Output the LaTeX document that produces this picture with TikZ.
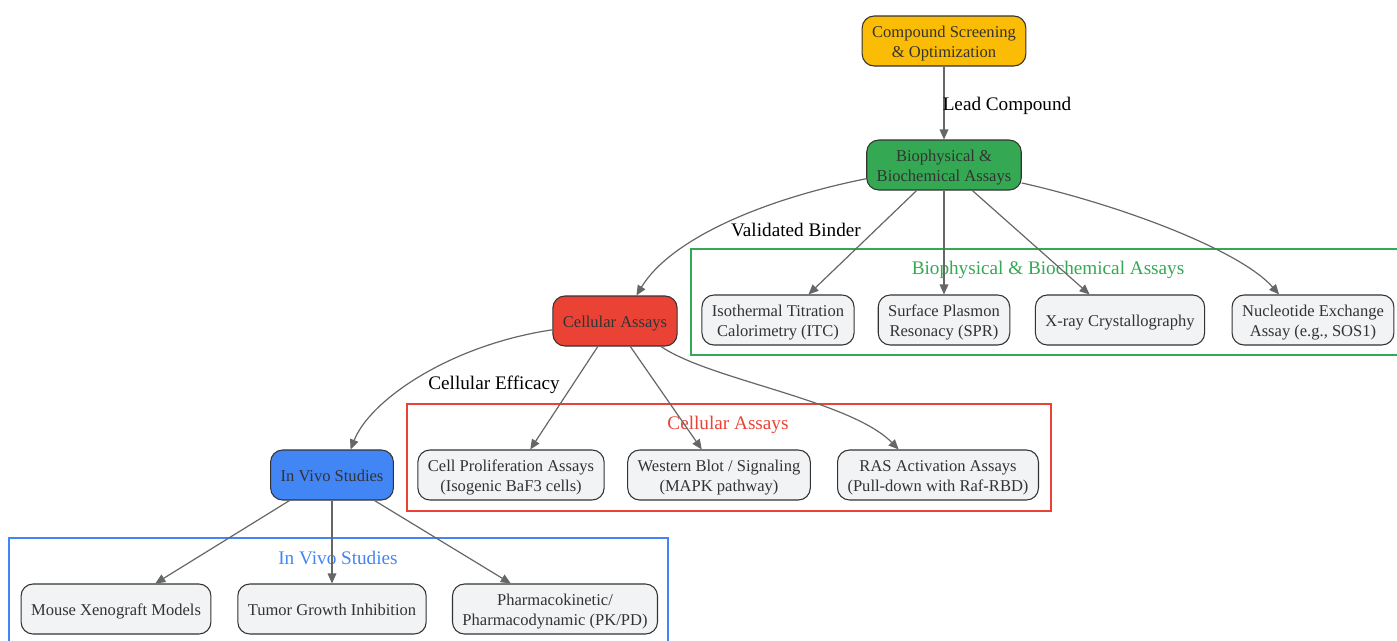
\documentclass[tikz,border=0pt]{standalone}
\usepackage{fontspec}
\setmainfont{Liberation Serif}
\usetikzlibrary{arrows.meta}
\definecolor{gyellow}{HTML}{FBBC05}
\definecolor{ggreen}{HTML}{34A853}
\definecolor{gred}{HTML}{EA4335}
\definecolor{gblue}{HTML}{4285F4}
\definecolor{leafgrey}{HTML}{F1F3F4}
\definecolor{edgegrey}{HTML}{666666}
\definecolor{inkgrey}{HTML}{333333}

\begin{document}
\begin{tikzpicture}[x=0.75pt,y=-0.75pt,
  box/.style={draw=inkgrey,line width=0.8pt,rounded corners=9pt,minimum height=37.5pt,
    inner xsep=7.5pt,inner ysep=3pt,text height=13pt,text depth=2.7pt,align=center,
    text=inkgrey,font=\fontsize{12.4}{15}\selectfont},
  twoline/.style={text height=28pt},
  leaf/.style={box,fill=leafgrey},
  edge/.style={draw=edgegrey,line width=0.9pt,-{Triangle[length=7.5pt,width=6.5pt]}},
  elabel/.style={text=black,font=\fontsize{14.4}{17}\selectfont},
  ctitle/.style={font=\fontsize{14.4}{17}\selectfont}]
\useasboundingbox (0,0) rectangle (1397,640);
\clip (0,0) rectangle (1397,640);

\draw[ggreen,line width=0.8pt] (691,249) rectangle (1402,355);
\node[ctitle,text=ggreen] (tbio) at (1048,270) {Biophysical \& Biochemical Assays};
\draw[gred,line width=0.8pt] (407,404) rectangle (1051,511);
\node[ctitle,text=gred] (tcell) at (728,425) {Cellular Assays};
\draw[gblue,line width=0.8pt] (9,538) rectangle (668,645);
\node[ctitle,text=gblue] (tvivo) at (338,558) {In Vivo Studies};

\node[box,twoline,fill=gyellow] (cs) at (944,41) {Compound Screening\\\& Optimization};
\node[box,twoline,fill=ggreen] (bio) at (944,165) {Biophysical \&\\Biochemical Assays};
\node[box,fill=gred] (cell) at (615,321) {Cellular Assays};
\node[box,fill=gblue] (vivo) at (332,475) {In Vivo Studies};

\node[leaf,twoline] (itc) at (778,320) {Isothermal Titration\\Calorimetry (ITC)};
\node[leaf,twoline] (spr) at (944,320) {Surface Plasmon\\Resonacy (SPR)};
\node[leaf] (xray) at (1120,320) {X-ray Crystallography};
\node[leaf,twoline] (nuc) at (1313,320) {Nucleotide Exchange\\Assay (e.g., SOS1)};

\node[leaf,twoline] (prolif) at (511,475) {Cell Proliferation Assays\\(Isogenic BaF3 cells)};
\node[leaf,twoline] (wb) at (719,475) {Western Blot / Signaling\\(MAPK pathway)};
\node[leaf,twoline] (ras) at (938,475) {RAS Activation Assays\\(Pull-down with Raf-RBD)};

\node[leaf] (xeno) at (116,609) {Mouse Xenograft Models};
\node[leaf] (tgi) at (332,609) {Tumor Growth Inhibition};
\node[leaf,twoline] (pkpd) at (555,609) {Pharmacokinetic/\\Pharmacodynamic (PK/PD)};

\draw[edge] (cs.south) -- (bio.north);
\draw[edge] (bio.190) .. controls (760,200) and (670,240) .. (cell.50);
\draw[edge] (cell.188) .. controls (450,345) and (370,400) .. (vivo.54);

\draw[edge] (bio.223) -- (itc.40);
\draw[edge] (bio.south) -- (spr.north);
\draw[edge] (bio.-42) -- (xray.140);
\draw[edge] (bio.-13) .. controls (1120,205) and (1240,250) .. (nuc.143);

\draw[edge] (cell.236) -- (prolif.53);
\draw[edge] (cell.-59) -- (wb.124);
\draw[edge] (cell.-29) .. controls (710,380) and (850,400) .. (ras.147);

\draw[edge] (vivo.211) -- (xeno.33);
\draw[edge] (vivo.south) -- (tgi.north);
\draw[edge] (vivo.-31) -- (pkpd.150);

\node[elabel] (llead) at (1007,106) {Lead Compound};
\node[elabel] (lbind) at (796,230) {Validated Binder};
\node[elabel] (leff) at (494,385) {Cellular Efficacy};
\end{tikzpicture}
\end{document}
